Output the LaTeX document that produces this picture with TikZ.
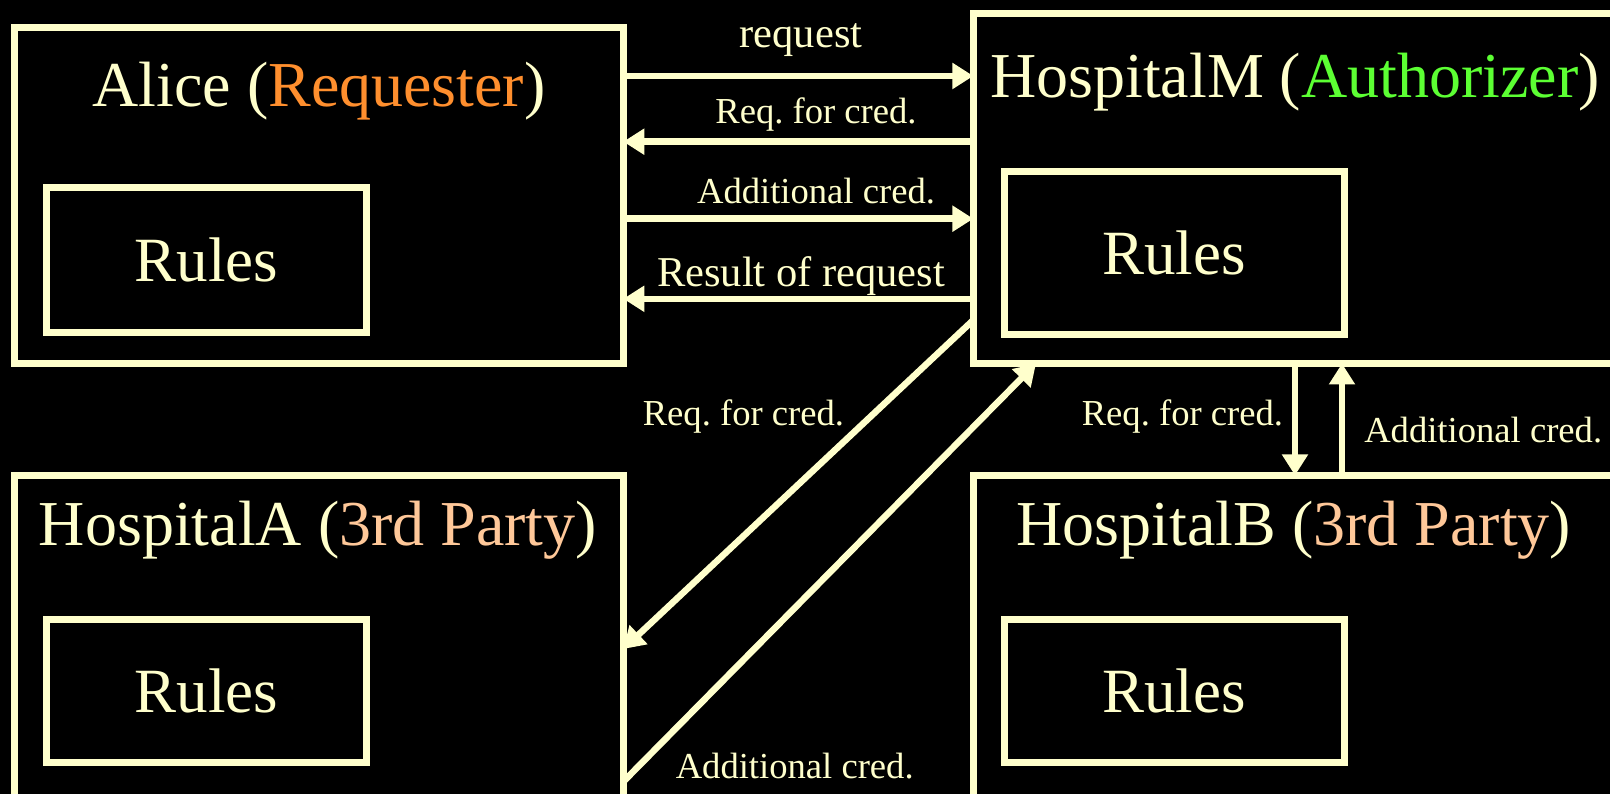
\documentclass[tikz,border=0pt]{standalone}
\usepackage{fontspec}
\setmainfont{Liberation Serif}
\usetikzlibrary{arrows.meta}
\definecolor{cream}{HTML}{FFFFCC}
\definecolor{reqorange}{HTML}{FF8F2E}
\definecolor{authgreen}{HTML}{5CFF33}
\definecolor{thirdpeach}{HTML}{FFC899}
\frenchspacing

\begin{document}
\begin{tikzpicture}
  [x = 1pt, y = 1pt,
   party/.style = {draw=cream, line width=7pt, fill=black, outer sep=0pt, inner sep=0pt},
   rulebox/.style = {draw=cream, line width=7pt, outer sep=0pt, inner sep=0pt, text=cream, font=\fontsize{63}{68}\selectfont},
   title/.style = {anchor=base, inner sep=0pt, text=cream, font=\fontsize{64}{70}\selectfont},
   msg/.style = {draw=cream, line width=6.5pt, -{Triangle[length=21pt,width=25pt]}},
   lbl/.style = {inner sep=0pt, text=cream, font=\fontsize{36.6}{40}\selectfont},
   biglbl/.style = {lbl, font=\fontsize{42.5}{46}\selectfont}]
    \useasboundingbox (0,0) rectangle (1610,794);
    \clip (0,0) rectangle (1610,794);
    \fill[black] (0,0) rectangle (1610,794);

    \node[party, minimum width=608.9pt, minimum height=335.8pt] (alice) at (318.85,598.4) {};
    \node[party, minimum width=656.6pt, minimum height=350.2pt] (hospm) at (1301.7,605.6) {};
    \node[party, minimum width=608.9pt, minimum height=338.6pt] (hospa) at (318.85,149.3) {};
    \node[party, minimum width=656.6pt, minimum height=338.6pt] (hospb) at (1301.7,149.3) {};

    \node[rulebox, minimum width=320.4pt, minimum height=144.8pt] (ralice) at (206.4,533.7) {Rules};
    \node[rulebox, minimum width=339.8pt, minimum height=163.2pt] (rhospm) at (1174.1,540.9) {Rules};
    \node[rulebox, minimum width=320.4pt, minimum height=143.8pt] (rhospa) at (206.4,102.9) {Rules};
    \node[rulebox, minimum width=339.8pt, minimum height=143.8pt] (rhospb) at (1174.1,102.9) {Rules};

    \node[title] (talice) at (319,687) {Alice (\textcolor{reqorange}{Requester})};
    \node[title] (thospm) at (1295,696) {HospitalM (\textcolor{authgreen}{Authorizer})};
    \node[title] (thospa) at (318,248) {HospitalA (\textcolor{thirdpeach}{3rd Party})};
    \node[title] (thospb) at (1294,248) {HospitalB (\textcolor{thirdpeach}{3rd Party})};

    \draw[msg] (alice.east |- 0,718) -- (hospm.west |- 0,718);
    \draw[msg] (hospm.west |- 0,652.3) -- (alice.east |- 0,652.3);
    \draw[msg] (alice.east |- 0,575.3) -- (hospm.west |- 0,575.3);
    \draw[msg] (hospm.west |- 0,495.2) -- (alice.east |- 0,495.2);
    \draw[msg] (hospm.west |- 0,474) -- (hospa.east |- 0,145);
    \draw[msg] (hospa.east |- 0,12.3) -- (hospm.south -| 1036,0);
    \draw[msg] (hospm.south -| 1295,0) -- (hospb.north -| 1295,0);
    \draw[msg] (hospb.north -| 1342,0) -- (hospm.south -| 1342,0);

    \node[biglbl] (lrequest) at (801,754) {request};
    \node[lbl] (lreqa) at (816,679.5) {Req. for cred.};
    \node[lbl] (ladda) at (816,603) {Additional cred.};
    \node[biglbl] (lresult) at (801,518.3) {Result of request};
    \node[lbl] (lreqb) at (743.4,377.6) {Req. for cred.};
    \node[lbl] (laddb) at (794.7,28) {Additional cred.};
    \node[lbl] (lreqc) at (1182.4,377.1) {Req. for cred.};
    \node[lbl] (laddc) at (1483.2,364.3) {Additional cred.};
  \end{tikzpicture}
\end{document}
